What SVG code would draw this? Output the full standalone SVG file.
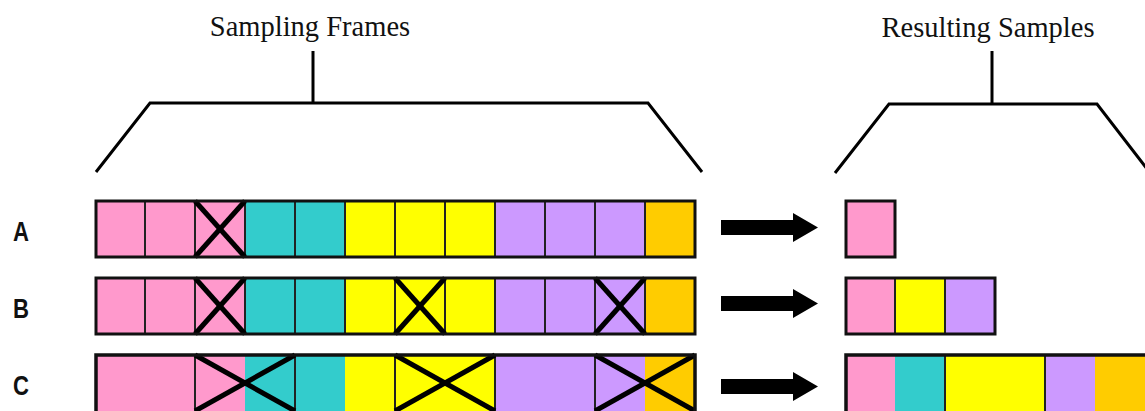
<svg xmlns="http://www.w3.org/2000/svg" width="1145" height="411" viewBox="0 0 1145 411">
<style>
.title{font-family:"Liberation Serif","Times New Roman",serif;font-size:28.5px;fill:#111;text-anchor:middle}
.lbl{font-family:"Liberation Sans",Arial,sans-serif;font-size:27px;font-weight:bold;fill:#111;text-anchor:middle}
.br{fill:none;stroke:#000;stroke-width:3}
.pk{fill:#FF99CC}.tl{fill:#33CCCC}.yl{fill:#FFFF00}.pu{fill:#CC99FF}.or{fill:#FFCC00}
.frame{fill:none;stroke:#111;stroke-width:3}
.div{stroke:#222;stroke-width:2}
.x{stroke:#000;stroke-width:5;stroke-linecap:butt}
.arr{fill:#000}
</style>
<rect width="1145" height="411" fill="#fff"/>
<g id="title-frames">
<text class="title" x="310" y="36">Sampling Frames</text>
</g>
<g id="title-samples">
<text class="title" x="988" y="37">Resulting Samples</text>
</g>
<g id="labels">
<text class="lbl" transform="translate(21,241) scale(0.82,1)">A</text>
<text class="lbl" transform="translate(21,318) scale(0.82,1)">B</text>
<text class="lbl" transform="translate(21,395) scale(0.82,1)">C</text>
</g>
<g id="row-A">
<rect class="pk" x="96" y="201" width="150" height="56"/>
<rect class="tl" x="245" y="201" width="100" height="56"/>
<rect class="yl" x="345" y="201" width="150" height="56"/>
<rect class="pu" x="495" y="201" width="150" height="56"/>
<rect class="or" x="645" y="201" width="50" height="56"/>
<g class="div">
<line x1="145" y1="201" x2="145" y2="257"/><line x1="195" y1="201" x2="195" y2="257"/><line x1="245" y1="201" x2="245" y2="257"/><line x1="295" y1="201" x2="295" y2="257"/><line x1="345" y1="201" x2="345" y2="257"/><line x1="395" y1="201" x2="395" y2="257"/><line x1="445" y1="201" x2="445" y2="257"/><line x1="495" y1="201" x2="495" y2="257"/><line x1="545" y1="201" x2="545" y2="257"/><line x1="595" y1="201" x2="595" y2="257"/><line x1="645" y1="201" x2="645" y2="257"/>
</g>
<g class="x">
<line x1="195" y1="201" x2="245" y2="257"/><line x1="195" y1="257" x2="245" y2="201"/>
</g>
<rect class="frame" x="96" y="201" width="599" height="56"/>
</g>
<g id="row-B">
<rect class="pk" x="96" y="278" width="150" height="56"/>
<rect class="tl" x="245" y="278" width="100" height="56"/>
<rect class="yl" x="345" y="278" width="150" height="56"/>
<rect class="pu" x="495" y="278" width="150" height="56"/>
<rect class="or" x="645" y="278" width="50" height="56"/>
<g class="div">
<line x1="145" y1="278" x2="145" y2="334"/><line x1="195" y1="278" x2="195" y2="334"/><line x1="245" y1="278" x2="245" y2="334"/><line x1="295" y1="278" x2="295" y2="334"/><line x1="345" y1="278" x2="345" y2="334"/><line x1="395" y1="278" x2="395" y2="334"/><line x1="445" y1="278" x2="445" y2="334"/><line x1="495" y1="278" x2="495" y2="334"/><line x1="545" y1="278" x2="545" y2="334"/><line x1="595" y1="278" x2="595" y2="334"/><line x1="645" y1="278" x2="645" y2="334"/>
</g>
<g class="x">
<line x1="195" y1="278" x2="245" y2="334"/><line x1="195" y1="334" x2="245" y2="278"/>
<line x1="395" y1="278" x2="445" y2="334"/><line x1="395" y1="334" x2="445" y2="278"/>
<line x1="595" y1="278" x2="645" y2="334"/><line x1="595" y1="334" x2="645" y2="278"/>
</g>
<rect class="frame" x="96" y="278" width="599" height="56"/>
</g>
<g id="row-C">
<rect class="pk" x="96" y="355" width="150" height="58"/>
<rect class="tl" x="245" y="355" width="100" height="58"/>
<rect class="yl" x="345" y="355" width="150" height="58"/>
<rect class="pu" x="495" y="355" width="150" height="58"/>
<rect class="or" x="645" y="355" width="50" height="58"/>
<g class="div">
<line x1="195" y1="355" x2="195" y2="413"/><line x1="295" y1="355" x2="295" y2="413"/><line x1="395" y1="355" x2="395" y2="413"/><line x1="495" y1="355" x2="495" y2="413"/><line x1="595" y1="355" x2="595" y2="413"/>
</g>
<g class="x">
<line x1="195" y1="355" x2="295" y2="411"/><line x1="195" y1="411" x2="295" y2="355"/>
<line x1="395" y1="355" x2="495" y2="411"/><line x1="395" y1="411" x2="495" y2="355"/>
<line x1="595" y1="355" x2="695" y2="411"/><line x1="595" y1="411" x2="695" y2="355"/>
</g>
<rect class="frame" x="96" y="355" width="599" height="58" style="stroke-width:3.5"/>
</g>
<g id="sample-A">
<rect class="pk" x="846" y="201" width="49" height="56"/>
<rect class="frame" x="846" y="201" width="49" height="56"/>
</g>
<g id="sample-B">
<rect class="pk" x="846" y="278" width="50" height="56"/>
<rect class="yl" x="895" y="278" width="50" height="56"/>
<rect class="pu" x="945" y="278" width="50" height="56"/>
<g class="div"><line x1="895" y1="278" x2="895" y2="334"/><line x1="945" y1="278" x2="945" y2="334"/></g>
<rect class="frame" x="846" y="278" width="149" height="56"/>
</g>
<g id="sample-C">
<rect class="pk" x="846" y="355" width="50" height="58"/>
<rect class="tl" x="895" y="355" width="50" height="58"/>
<rect class="yl" x="945" y="355" width="100" height="58"/>
<rect class="pu" x="1045" y="355" width="50" height="58"/>
<rect class="or" x="1095" y="355" width="55" height="58"/>
<g class="div"><line x1="945" y1="355" x2="945" y2="413"/><line x1="1045" y1="355" x2="1045" y2="413"/></g>
<rect class="frame" x="846" y="355" width="310" height="58" style="stroke-width:3.5"/>
</g>
<g id="connectors">
<polyline class="br" points="96,172 150,103 648,103 702,172"/>
<line class="br" x1="313" y1="103" x2="313" y2="51"/>
<polyline class="br" points="835,173 889,104 1097,104 1151,174"/>
<line class="br" x1="992" y1="104" x2="992" y2="51"/>
<polygon class="arr" points="721,220 793,220 793,213 818,227.5 793,242 793,235 721,235"/>
<polygon class="arr" points="721,296 793,296 793,289 818,303.5 793,318 793,311 721,311"/>
<polygon class="arr" points="721,379 793,379 793,372 818,386.5 793,401 793,394 721,394"/>
</g>
</svg>
